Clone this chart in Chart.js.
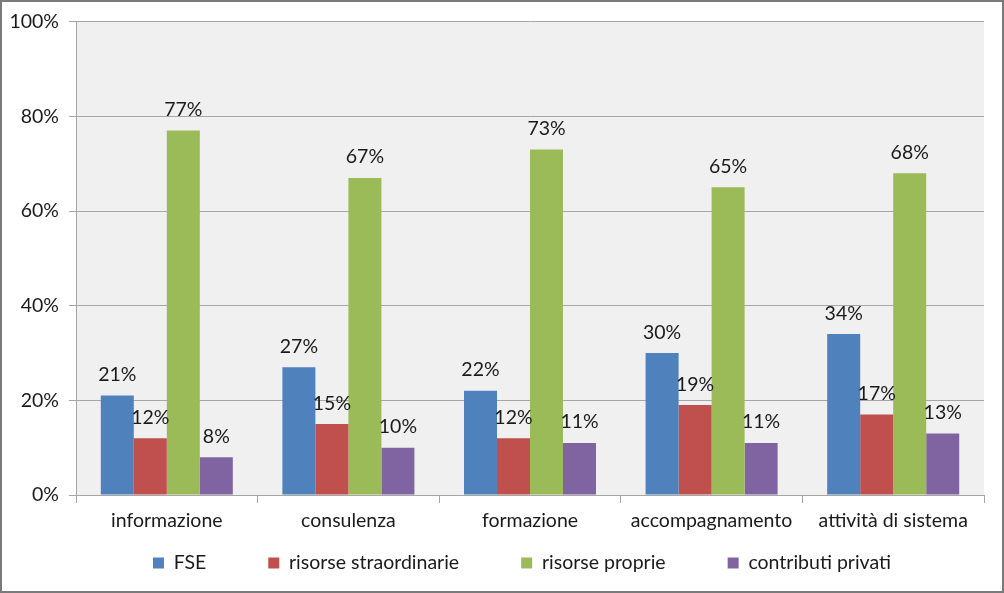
<!DOCTYPE html>
<html>
<head>
<meta charset="utf-8">
<script src="https://cdn.jsdelivr.net/npm/chart.js@4"></script>
<style>
  html, body { margin: 0; padding: 0; background: #ffffff; }
  #wrap { width: 1004px; height: 593px; position: relative; }
</style>
</head>
<body>
<div id="wrap"><canvas id="c" width="1004" height="593"></canvas></div>
<script>
const categories = ['informazione', 'consulenza', 'formazione', 'accompagnamento', 'attività di sistema'];
const fse = [21, 27, 22, 30, 34];
const risorseStraordinarie = [12, 15, 12, 19, 17];
const risorseProprie = [77, 67, 73, 65, 68];
const contributiPrivati = [8, 10, 11, 11, 13];
const yTicks = [0, 20, 40, 60, 80, 100];

const FONT = 'Lato, "Open Sans", sans-serif';
const FONT_SIZE = 19.5;
const LEGEND_PAD = 62;
const ink = '#1a1a1a';
const gridGray = '#a6a6a6';

// plot background + outer frame
const frame = {
    id: 'frame',
    beforeDraw(chart) {
        const { ctx, chartArea: a } = chart;
        ctx.save();
        ctx.fillStyle = '#f0f0f0';
        ctx.fillRect(a.left, a.top, a.right - a.left, a.bottom - a.top);
        ctx.restore();
    },
    afterDraw(chart) {
        const { ctx } = chart;
        ctx.save();
        ctx.strokeStyle = '#7a7a7a';
        ctx.lineWidth = 2;
        ctx.strokeRect(1, 1, chart.width - 2, chart.height - 2);
        ctx.restore();
    },
};

// Legend label padding is used both between items and above them; the
// reference has wide horizontal gaps but a tight row, so move the box.
// (the legend clips to its own box, so keep the row inside it)
const legendPlacement = {
    id: 'legendPlacement',
    afterLayout(chart) {
        const lg = chart.legend;
        if (! lg) return;
        lg.top = 563 - LEGEND_PAD - FONT_SIZE / 2;
        lg.height = LEGEND_PAD + 30;
        lg.bottom = lg.top + lg.height;
        lg.left = 60;
        lg.right = chart.width - 20;
        lg.width = lg.right - lg.left;
    },
};

// percentage labels above each bar
const barLabels = {
    id: 'barLabels',
    afterDatasetsDraw(chart) {
        const { ctx } = chart;
        ctx.save();
        ctx.font = FONT_SIZE + 'px ' + FONT;
        ctx.fillStyle = ink;
        ctx.textAlign = 'center';
        ctx.textBaseline = 'bottom';
        chart.data.datasets.forEach((ds, i) => {
            chart.getDatasetMeta(i).data.forEach((bar, j) => {
                ctx.fillText(ds.data[j] + '%', bar.x, bar.y - 11);
            });
        });
        ctx.restore();
    },
};

new Chart(document.getElementById('c'), {
    type: 'bar',
    data: {
        labels: categories,
        datasets: [
            { label: 'FSE', data: fse, backgroundColor: '#4f81bd' },
            { label: 'risorse straordinarie', data: risorseStraordinarie, backgroundColor: '#c0504d' },
            { label: 'risorse proprie', data: risorseProprie, backgroundColor: '#9bbb59' },
            { label: 'contributi privati', data: contributiPrivati, backgroundColor: '#8064a2' },
        ],
    },
    options: {
        responsive: false,
        animation: false,
        layout: { padding: { top: 20, right: 20, left: 0, bottom: 8 } },
        datasets: { bar: { categoryPercentage: 0.727, barPercentage: 1.0 } },
        scales: {
            x: {
                grid: {
                    offset: true,
                    drawOnChartArea: false,
                    drawTicks: true,
                    tickLength: 8,
                    color: gridGray,
                },
                border: { color: gridGray },
                ticks: { color: ink, font: { family: FONT, size: FONT_SIZE }, padding: 6, maxRotation: 0 },
                afterFit: (s) => { s.height = 40; },
            },
            y: {
                min: 0,
                max: 100,
                afterBuildTicks: (s) => { s.ticks = yTicks.map((v) => ({ value: v })); },
                grid: { color: gridGray, tickLength: 7 },
                border: { color: gridGray },
                ticks: {
                    color: ink,
                    font: { family: FONT, size: FONT_SIZE },
                    padding: 10,
                    callback: (v) => v + '%',
                },
                afterFit: (s) => { s.width = 76; },
            },
        },
        plugins: {
            legend: {
                position: 'bottom',
                maxHeight: 50,
                labels: {
                    color: ink,
                    font: { family: FONT, size: FONT_SIZE },
                    boxWidth: 11,
                    boxHeight: 11,
                    padding: LEGEND_PAD,
                },
            },
            tooltip: { enabled: false },
        },
    },
    plugins: [frame, legendPlacement, barLabels],
});
</script>
</body>
</html>
